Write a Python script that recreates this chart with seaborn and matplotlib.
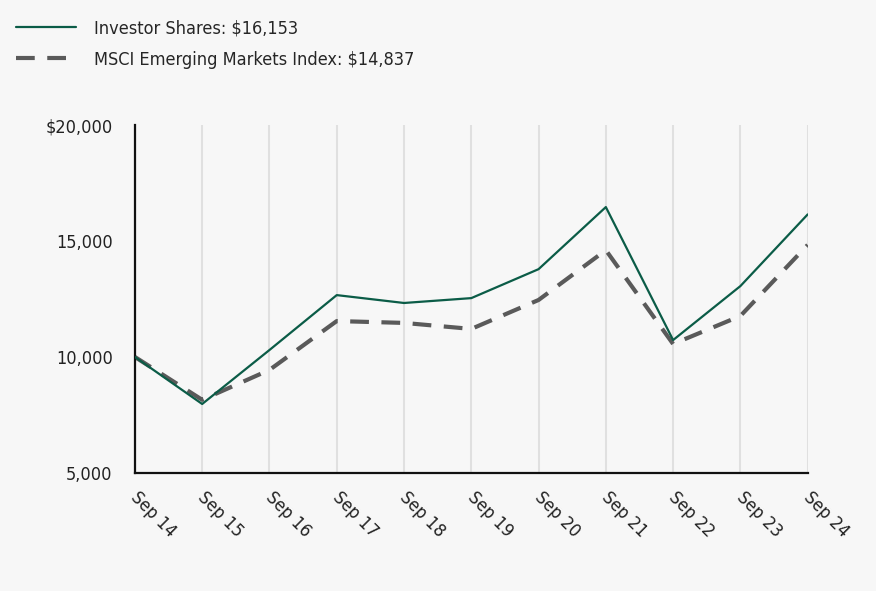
import pandas as pd
import matplotlib.pyplot as plt
import seaborn as sns
import numpy as np
from matplotlib.lines import Line2D

# values
years = ['Sep 14', 'Sep 15', 'Sep 16', 'Sep 17', 'Sep 18', 'Sep 19',
         'Sep 20', 'Sep 21', 'Sep 22', 'Sep 23', 'Sep 24']
investor = [10000, 7970, 10300, 12670, 12330, 12540, 13790, 16470, 10730, 13060, 16153]
msci = [10000, 8150, 9440, 11550, 11470, 11210, 12460, 14610, 10560, 11770, 14837]
series_names = ['Investor Shares: $16,153', 'MSCI Emerging Markets Index: $14,837']
y_ticks = [5000, 10000, 15000, 20000]
y_labels = ['5,000', '10,000', '15,000', '$20,000']

df = pd.DataFrame({
    'x': list(range(len(years))) * 2,
    'value': investor + msci,
    'series': [series_names[0]] * len(years) + [series_names[1]] * len(years),
})

sns.set_style('white')
plt.rcParams['font.family'] = ['DejaVu Sans']
plt.rcParams['font.stretch'] = 'condensed'

bg = '#f7f7f7'
green = '#0b5c47'
grey = '#5a5a5a'
fig = plt.figure(figsize=(8.76, 5.91), dpi=100, facecolor=bg)
ax = fig.add_axes([0.154, 0.2, 0.768, 0.588], facecolor=bg)

palette = {series_names[0]: green, series_names[1]: grey}
sns.lineplot(data=df, x='x', y='value', hue='series', palette=palette, ax=ax, legend=False)
ax.lines[0].set_linewidth(1.6)
ax.lines[1].set_linewidth(3.0)
ax.lines[1].set_dashes([4.5, 3])
ax.lines[0].set_zorder(4)

ax.set_xlim(0, len(years) - 1)
ax.set_ylim(5000, 20000)
ax.set_xticks(range(len(years)))
ax.set_xticklabels(years, rotation=-45, ha='left', va='center_baseline',
                   rotation_mode='anchor', fontsize=13)
ax.set_yticks(y_ticks)
ax.set_yticklabels(y_labels, fontsize=13)
ax.tick_params(axis='both', length=0, colors='#222222')
ax.tick_params(axis='y', pad=16)
ax.tick_params(axis='x', pad=15)
ax.xaxis.grid(True, color='#e0e0e0', linewidth=1.5)
ax.set_axisbelow(True)
ax.set_xlabel('')
ax.set_ylabel('')
for s in ['top', 'right']:
    ax.spines[s].set_visible(False)
for s in ['left', 'bottom']:
    ax.spines[s].set_color('#111111')
    ax.spines[s].set_linewidth(1.6)

# legend at top left
handles = [Line2D([], [], color=green, linewidth=1.6),
           Line2D([], [], color=grey, linewidth=3.0, dashes=[4.5, 3])]
fig.legend(handles, series_names, loc='upper left', bbox_to_anchor=(0.0, 0.995),
           frameon=False, fontsize=13, handlelength=3.3, handletextpad=1.0, labelspacing=0.75)

fig.savefig('out.png', dpi=100, facecolor=bg)
